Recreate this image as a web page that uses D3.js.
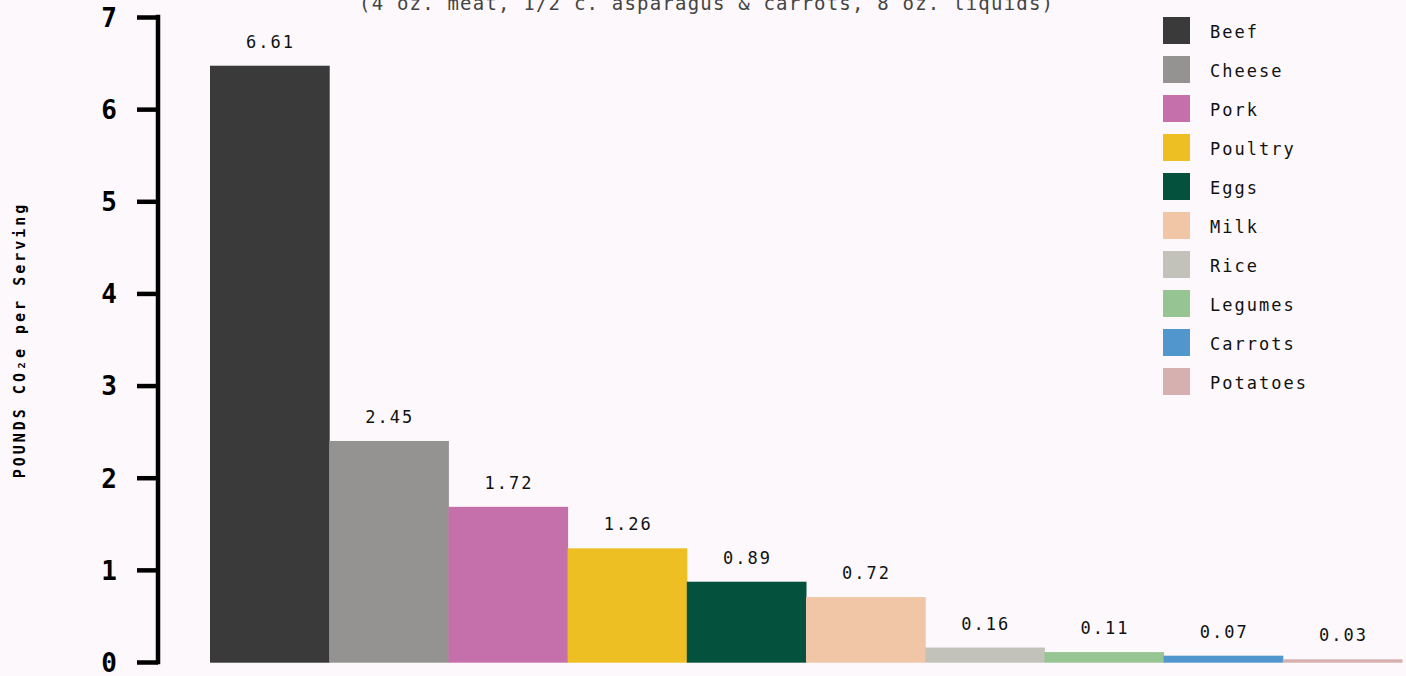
<!DOCTYPE html>
<html>
<head>
<meta charset="utf-8">
<script src="https://cdn.jsdelivr.net/npm/d3@7"></script>
<style>
  html, body { margin: 0; padding: 0; background: #fcf8fb; }
  svg { display: block; }
  text { font-family: "DejaVu Sans Mono", "Liberation Mono", monospace; }
</style>
</head>
<body>
<svg id="chart" width="1406" height="676"></svg>
<script>
// Greenhouse-gas footprint of one serving of common foods
const foods = ["Beef", "Cheese", "Pork", "Poultry", "Eggs", "Milk", "Rice", "Legumes", "Carrots", "Potatoes"];
const co2Pounds = [6.61, 2.45, 1.72, 1.26, 0.89, 0.72, 0.16, 0.11, 0.07, 0.03];
const foodColors = ["#3a3a3a", "#949391", "#c570ab", "#eebf22", "#04513d", "#f0c6a6", "#c2c2ba", "#96c593", "#5197cd", "#d6b0ae"];
const yTicks = [0, 1, 2, 3, 4, 5, 6, 7];
const subtitle = "(4 oz. meat, 1/2 c. asparagus & carrots, 8 oz. liquids)";
const yTitle = "POUNDS CO\u2082e per Serving";

const svg = d3.select("#chart");

const x = d3.scaleBand().domain(foods).range([210, 1402]).padding(0);
// axis scale and bar scale share the same pixel range
const yAxisScale = d3.scaleLinear().domain([0, 7]).range([662, 17]);
const yBar = d3.scaleLinear().domain([0, 7.15]).range([662, 17]);
const color = d3.scaleOrdinal().domain(foods).range(foodColors);

const data = foods.map((f, i) => ({ food: f, value: co2Pounds[i] }));

// subtitle (runs off the top edge)
svg.append("text")
  .attr("x", 706).attr("y", 10)
  .attr("text-anchor", "middle")
  .attr("font-size", 19)
  .attr("fill", "#444")
  .attr("textLength", 694)
  .attr("lengthAdjust", "spacing")
  .text(subtitle);

// bars
svg.append("g").selectAll("rect")
  .data(data)
  .join("rect")
  .attr("x", d => x(d.food))
  .attr("width", x.bandwidth() + 0.5)
  .attr("y", d => yBar(d.value))
  .attr("height", d => yBar(0) - yBar(d.value) + 0.7)
  .attr("fill", d => color(d.food));

// value labels
svg.append("g").selectAll("text")
  .data(data)
  .join("text")
  .attr("x", d => x(d.food) + x.bandwidth() / 2 + 1)
  .attr("y", d => yBar(d.value) - 18)
  .attr("text-anchor", "middle")
  .attr("font-size", 17)
  .attr("letter-spacing", 2)
  .attr("fill", "#111")
  .text(d => d3.format(".2f")(d.value));

// y axis
const yAxis = d3.axisLeft(yAxisScale)
  .tickValues(yTicks)
  .tickFormat(d3.format("d"))
  .tickSize(21)
  .tickSizeOuter(0)
  .tickPadding(20);

const gy = svg.append("g")
  .attr("transform", "translate(158,0)")
  .call(yAxis);

gy.select(".domain")
  .attr("stroke", "#000")
  .attr("stroke-width", 4.5)
  .attr("d", `M0,${yAxisScale(7) - 2.2}V${yAxisScale(0) + 2.2}`);
gy.selectAll(".tick line")
  .attr("stroke", "#000")
  .attr("stroke-width", 4.5)
  .attr("x2", -21);
gy.selectAll(".tick text")
  .attr("font-family", "\"DejaVu Sans Mono\", monospace")
  .attr("font-size", 26)
  .attr("font-weight", "bold")
  .attr("fill", "#000")
  .attr("x", -41)
  .attr("dy", "0.36em");

// y axis title
svg.append("text")
  .attr("transform", "translate(25,340) rotate(-90)")
  .attr("text-anchor", "middle")
  .attr("font-size", 15)
  .attr("font-weight", "bold")
  .attr("letter-spacing", 3)
  .attr("fill", "#000")
  .text(yTitle);

// legend
const legend = svg.append("g").attr("transform", "translate(1163,17)");
const item = legend.selectAll("g")
  .data(foods)
  .join("g")
  .attr("transform", (d, i) => `translate(0,${i * 39})`);
item.append("rect")
  .attr("width", 27).attr("height", 27)
  .attr("fill", d => color(d));
item.append("text")
  .attr("x", 47).attr("y", 20.5)
  .attr("font-size", 17)
  .attr("letter-spacing", 2)
  .attr("fill", "#111")
  .text(d => d);
</script>
</body>
</html>
